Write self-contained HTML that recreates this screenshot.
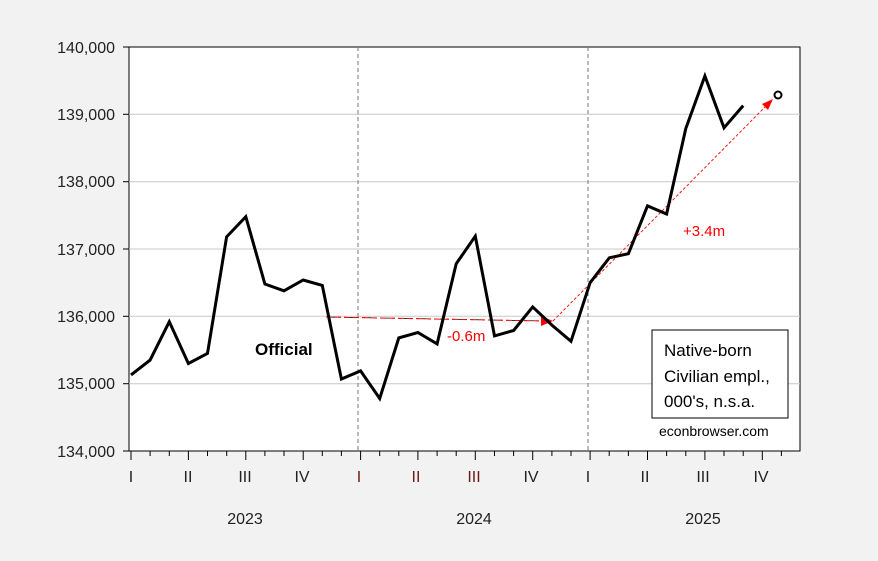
<!DOCTYPE html><html><head><style>body{margin:0;background:#f2f2f2}svg{display:block;font-family:"Liberation Sans",sans-serif}</style></head><body>
<svg width="878" height="561" xmlns="http://www.w3.org/2000/svg">
<rect width="878" height="561" fill="#f2f2f2"/>
<rect x="129" y="47" width="671" height="404" fill="#fff" stroke="#000"/>
<g stroke="#c8c8c8" stroke-width="1">
<line x1="129" x2="800" y1="114.3" y2="114.3"/><line x1="129" x2="800" y1="181.7" y2="181.7"/><line x1="129" x2="800" y1="249" y2="249"/><line x1="129" x2="800" y1="316.3" y2="316.3"/><line x1="129" x2="800" y1="383.7" y2="383.7"/>
</g>
<g stroke="#777" stroke-dasharray="4,3"><line x1="358" x2="358" y1="47" y2="451"/><line x1="588" x2="588" y1="47" y2="451"/></g>
<g font-size="16" fill="#222" text-anchor="end">
<text x="115" y="53">140,000</text><text x="115" y="120">139,000</text><text x="115" y="187">138,000</text><text x="115" y="255">137,000</text><text x="115" y="322">136,000</text><text x="115" y="389">135,000</text><text x="115" y="457">134,000</text>
</g>
<g stroke="#000"><line x1="123" x2="129" y1="47" y2="47"/><line x1="123" x2="129" y1="114.3" y2="114.3"/><line x1="123" x2="129" y1="181.7" y2="181.7"/><line x1="123" x2="129" y1="249" y2="249"/><line x1="123" x2="129" y1="316.3" y2="316.3"/><line x1="123" x2="129" y1="383.7" y2="383.7"/><line x1="123" x2="129" y1="451" y2="451"/></g>
<g stroke="#000">
<line x1="131" x2="131" y1="451" y2="460"/><line x1="150.1" x2="150.1" y1="451" y2="456"/><line x1="169.3" x2="169.3" y1="451" y2="456"/>
<line x1="188.4" x2="188.4" y1="451" y2="460"/><line x1="207.5" x2="207.5" y1="451" y2="456"/><line x1="226.7" x2="226.7" y1="451" y2="456"/>
<line x1="245.8" x2="245.8" y1="451" y2="460"/><line x1="264.9" x2="264.9" y1="451" y2="456"/><line x1="284" x2="284" y1="451" y2="456"/>
<line x1="303.2" x2="303.2" y1="451" y2="460"/><line x1="322.3" x2="322.3" y1="451" y2="456"/><line x1="341.4" x2="341.4" y1="451" y2="456"/>
<line x1="360.6" x2="360.6" y1="451" y2="460"/><line x1="379.7" x2="379.7" y1="451" y2="456"/><line x1="398.8" x2="398.8" y1="451" y2="456"/>
<line x1="417.9" x2="417.9" y1="451" y2="460"/><line x1="437.1" x2="437.1" y1="451" y2="456"/><line x1="456.2" x2="456.2" y1="451" y2="456"/>
<line x1="475.3" x2="475.3" y1="451" y2="460"/><line x1="494.5" x2="494.5" y1="451" y2="456"/><line x1="513.6" x2="513.6" y1="451" y2="456"/>
<line x1="532.7" x2="532.7" y1="451" y2="460"/><line x1="551.9" x2="551.9" y1="451" y2="456"/><line x1="571" x2="571" y1="451" y2="456"/>
<line x1="590.1" x2="590.1" y1="451" y2="460"/><line x1="609.2" x2="609.2" y1="451" y2="456"/><line x1="628.4" x2="628.4" y1="451" y2="456"/>
<line x1="647.5" x2="647.5" y1="451" y2="460"/><line x1="666.6" x2="666.6" y1="451" y2="456"/><line x1="685.8" x2="685.8" y1="451" y2="456"/>
<line x1="704.9" x2="704.9" y1="451" y2="460"/><line x1="724" x2="724" y1="451" y2="456"/><line x1="743.2" x2="743.2" y1="451" y2="456"/>
<line x1="762.3" x2="762.3" y1="451" y2="460"/><line x1="781.4" x2="781.4" y1="451" y2="456"/>
</g>
<g font-size="16" fill="#222" text-anchor="middle">
<text x="131" y="482">I</text><text x="188" y="482">II</text><text x="245" y="482">III</text><text x="302" y="482">IV</text>
<text x="359" y="482" fill="#6b1a1a">I</text><text x="416" y="482" fill="#6b1a1a">II</text><text x="474" y="482" fill="#6b1a1a">III</text><text x="531" y="482">IV</text>
<text x="588" y="482">I</text><text x="645" y="482">II</text><text x="703" y="482">III</text><text x="761" y="482">IV</text>
<text x="245" y="524">2023</text><text x="474" y="524">2024</text><text x="703" y="524">2025</text>
</g>
<line x1="326" y1="317" x2="545" y2="321" stroke="#000" stroke-dasharray="3,3" stroke-width="0.8"/>
<line x1="326" y1="317" x2="545" y2="321" stroke="#f00" stroke-dasharray="6,3" stroke-width="1"/>
<polygon points="553,321 541,316 541,326" fill="#f00"/>
<line x1="553" y1="321" x2="766" y2="106" stroke="#f00" stroke-dasharray="3,2" stroke-width="0.9"/>
<polygon points="773,99 762,104 768,110" fill="#f00"/>
<text x="447" y="341" font-size="15" fill="#f00">-0.6m</text>
<text x="683" y="236" font-size="15" fill="#f00">+3.4m</text>
<polyline id="ser" fill="none" stroke="#000" stroke-width="3" stroke-linejoin="miter"/>
<circle cx="778" cy="95" r="3.5" fill="#fff" stroke="#000" stroke-width="2"/>
<text x="255" y="355" font-size="17" font-weight="bold">Official</text>
<rect x="652" y="330" width="136" height="88" fill="#fff" stroke="#000"/>
<g font-size="17" fill="#000"><text x="664" y="356">Native-born</text><text x="664" y="382">Civilian empl.,</text><text x="664" y="407">000's, n.s.a.</text></g>
<text x="659" y="436" font-size="14">econbrowser.com</text>
<script>
var d=[135130,135350,135920,135300,135450,137180,137480,136480,136380,136540,136460,135070,135190,134780,135680,135760,135590,136780,137190,135710,135790,136140,135870,135630,136500,136870,136930,137640,137520,138790,139570,138800,139130];
var p=d.map(function(v,i){return (131+19.13*i).toFixed(1)+","+(451-(v-134000)*0.06733).toFixed(1)}).join(" ");
document.getElementById("ser").setAttribute("points",p);
</script>
</svg></body></html>
